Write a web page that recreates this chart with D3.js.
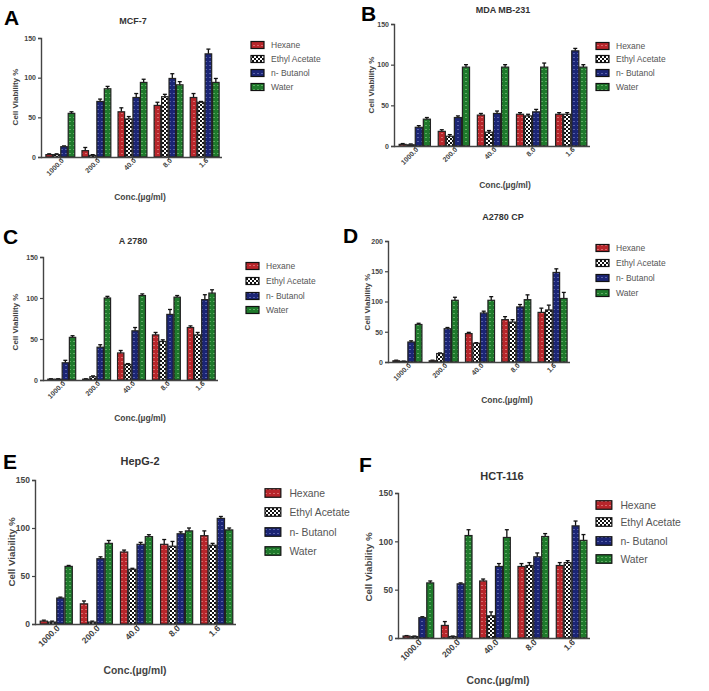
<!DOCTYPE html>
<html><head><meta charset="utf-8">
<script src="https://cdn.jsdelivr.net/npm/d3@7"></script>
<style>
body{margin:0;background:#fff;}
text{font-family:"Liberation Sans",Arial,sans-serif;}
</style></head>
<body><svg id="chart" width="709" height="691"></svg>
<script>
// ---------- data ----------
const concLabels = ["1000.0","200.0","40.0","8.0","1.6"];
const seriesNames = ["Hexane","Ethyl Acetate","n- Butanol","Water"];
const panelTitles = ["MCF-7","MDA MB-231","A 2780","A2780 CP","HepG-2","HCT-116"];
const panelLetters = ["A","B","C","D","E","F"];
const yTicksA = [0,50,100,150];
const yTicksD = [0,50,100,150,200];

// rows: Hexane, Ethyl Acetate, n- Butanol, Water ; columns: concLabels
const mcf7    = [[3,8,57,65,75],[3,2,48,76,69],[13,70,75,99,130],[55,86,94,91,94]];
const mcf7Err = [[1,4,5,4,5],[1,1,3,3,1],[1,3,5,6,6],[2,3,4,4,5]];
const mda     = [[2,18,38,39,39],[1.5,12,17,37,39],[23,35,40,42,117],[33,97,97,97,97]];
const mdaErr  = [[1,2,2,2,2],[1,2,2,2,2],[2,2,3,3,3],[2,3,3,5,3]];
const a2780    = [[1,1,33,55,64],[1,4,19,47,55],[21,40,60,80,98],[52,100,103,101,106]];
const a2780Err = [[0.5,0.5,3,3,2],[0.5,1,1,2,3],[3,3,4,6,6],[2,2,2,2,4]];
const a2780cp    = [[2,2,47,70,82],[1,14,31,66,86],[33,55,81,91,148],[62,102,102,103,105]];
const a2780cpErr = [[1,1,2,5,7],[0.5,1,1,4,8],[2,2,3,4,6],[2,5,6,8,10]];
const hepg2    = [[3,21,75,83,92],[2,2,57,81,82],[27,68,83,94,110],[60,84,91,97,98]];
const hepg2Err = [[1,3,2,5,5],[1,1,1,5,2],[1,2,2,2,2],[1,3,2,3,2]];
const hct116    = [[2,13,59,74,75],[1.5,1.5,23,75,78],[21,56,74,84,116],[57,106,104,105,101]];
const hct116Err = [[0.5,4,2,3,3],[0.5,0.5,4,3,2],[1,1,3,4,5],[2,6,8,3,6]];

const panelData = [mcf7,mda,a2780,a2780cp,hepg2,hct116];
const panelErr  = [mcf7Err,mdaErr,a2780Err,a2780cpErr,hepg2Err,hct116Err];
const panelYMax = [150,150,150,200,150,150];
const panelTicks = [yTicksA,yTicksA,yTicksA,yTicksD,yTicksA,yTicksA];

// ---------- layout ----------
const layout = [
 {x0:41,x1:222,y0:157,yT:38,tx:133,ty:24,lx:4,ly:25,ylx:15,yly:97,cx:140,cy:200,legX:251,legY:[45,59,73,87],fs:1},
 {x0:394,x1:590,y0:146,yT:24,tx:503,ty:13,lx:361,ly:21,ylx:371,yly:85,cx:505,cy:188,legX:596,legY:[46,59,73,87],fs:1},
 {x0:43,x1:218,y0:380,yT:257,tx:133,ty:244,lx:3,ly:244,ylx:15,yly:322,cx:140,cy:421,legX:246,legY:[266,281,296,310],fs:1},
 {x0:388,x1:570,y0:362,yT:241,tx:503,ty:220,lx:343,ly:243,ylx:367,yly:302,cx:507,cy:403,legX:596,legY:[248,263,278,293],fs:1},
 {x0:35,x1:236,y0:624,yT:480,tx:140,ty:465,lx:3,ly:469,ylx:12,yly:552,cx:135,cy:674,legX:265,legY:[493,512,532,551],fs:1.22},
 {x0:398,x1:590,y0:638,yT:493,tx:502,ty:480,lx:359,ly:472,ylx:369,yly:567,cx:498,cy:684,legX:596,legY:[505,522,541,559],fs:1.22}
];

const svg = d3.select("#chart");
const defs = svg.append("defs");
const colors = ["#b8262b","#ffffff","#1b2575","#1f7a2c"];
const dashCol = ["#f0a0a0","#000","#8890d0","#90d090"];
// patterns
colors.forEach((c,i)=>{
  const p = defs.append("pattern").attr("id","pat"+i).attr("patternUnits","userSpaceOnUse")
     .attr("width",4).attr("height",4);
  if(i===1){
    p.append("rect").attr("width",4).attr("height",4).attr("fill","#fff");
    p.append("rect").attr("width",2).attr("height",2).attr("fill","#111");
    p.append("rect").attr("x",2).attr("y",2).attr("width",2).attr("height",2).attr("fill","#111");
  } else {
    p.append("rect").attr("width",4).attr("height",4).attr("fill",c);
    p.append("rect").attr("x",1).attr("y",1).attr("width",2).attr("height",0.8).attr("fill",dashCol[i]).attr("opacity",0.7);
  }
});

layout.forEach((L,pi)=>{
  const g = svg.append("g");
  const data = panelData[pi], err = panelErr[pi];
  const fs = L.fs;
  const y = d3.scaleLinear().domain([0,panelYMax[pi]]).range([L.y0,L.yT]);
  const x = d3.scaleBand().domain(concLabels).range([L.x0+2,L.x1]).paddingInner(0.2).paddingOuter(0.08);
  const xs = d3.scaleBand().domain(d3.range(4)).range([0,x.bandwidth()]).paddingInner(0.12);

  const rows=[];
  concLabels.forEach((c,ci)=>seriesNames.forEach((s,si)=>rows.push({c,si,v:data[si][ci],e:err[si][ci]})));

  // error bars
  const eb = g.append("g");
  rows.forEach(r=>{
    const cx = x(r.c)+xs(r.si)+xs.bandwidth()/2;
    eb.append("line").attr("x1",cx).attr("x2",cx).attr("y1",y(r.v)).attr("y2",y(r.v+r.e)).attr("stroke","#111").attr("stroke-width",1.3);
    eb.append("line").attr("x1",cx-2).attr("x2",cx+2).attr("y1",y(r.v+r.e)).attr("y2",y(r.v+r.e)).attr("stroke","#111").attr("stroke-width",1.3);
  });
  // bars
  g.append("g").selectAll("rect").data(rows).join("rect")
    .attr("x",d=>x(d.c)+xs(d.si)).attr("width",xs.bandwidth())
    .attr("y",d=>y(d.v)).attr("height",d=>L.y0-y(d.v))
    .attr("fill",d=>`url(#pat${d.si})`).attr("stroke","#222").attr("stroke-width",1.2);

  // y axis
  const ya = g.append("g").attr("transform",`translate(${L.x0},0)`)
    .call(d3.axisLeft(y).tickValues(panelTicks[pi]).tickSize(3).tickPadding(2));
  ya.select(".domain").attr("stroke","#444").attr("stroke-width",1.4);
  ya.selectAll(".tick line").attr("stroke","#444").attr("stroke-width",1.2);
  ya.selectAll(".tick text").attr("font-size",7*fs).attr("font-weight","bold").attr("fill","#444")
    .style("font-family","'Liberation Sans',Arial,sans-serif");
  // x axis
  const xa = g.append("g").attr("transform",`translate(0,${L.y0})`)
    .call(d3.axisBottom(x).tickSize(3).tickSizeOuter(0));
  xa.select(".domain").attr("stroke","#444").attr("stroke-width",1.4).attr("d",`M${L.x0},0.5H${L.x1}`);
  xa.selectAll(".tick line").attr("stroke","#444");
  xa.selectAll(".tick text").attr("font-size",7*fs).attr("font-weight","bold").attr("fill","#444")
    .style("font-family","'Liberation Sans',Arial,sans-serif")
    .attr("text-anchor","end").attr("dy",0)
    .attr("transform",`translate(4,${4*fs}) rotate(-45)`).attr("y",0).attr("x",0);

  // title
  g.append("text").attr("x",L.tx).attr("y",L.ty).attr("text-anchor","middle")
    .attr("font-size",9*fs).attr("font-weight","bold").attr("fill","#333").text(panelTitles[pi]);
  // letter
  g.append("text").attr("x",L.lx).attr("y",L.ly).attr("font-size",21).attr("font-weight","bold")
    .attr("fill","#000").text(panelLetters[pi]);
  // y label
  g.append("text").attr("transform",`translate(${L.ylx},${L.yly}) rotate(-90)`).attr("text-anchor","middle")
    .attr("dy","0.35em").attr("font-size",8*fs).attr("font-weight","bold").attr("fill","#444").text("Cell Viability %");
  // x label
  g.append("text").attr("x",L.cx).attr("y",L.cy).attr("text-anchor","middle")
    .attr("font-size",8.5*fs).attr("font-weight","bold").attr("fill","#444").text("Conc.(\u00b5g/ml)");
  // legend
  seriesNames.forEach((s,si)=>{
    g.append("rect").attr("x",L.legX).attr("y",L.legY[si]-3.5*fs).attr("width",13*fs).attr("height",7*fs)
      .attr("fill",`url(#pat${si})`).attr("stroke","#111").attr("stroke-width",1.2);
    g.append("text").attr("x",L.legX+20*fs).attr("y",L.legY[si]).attr("dy","0.35em")
      .attr("font-size",8.5*fs).attr("fill","#555").text(s);
  });
});
</script></body></html>
